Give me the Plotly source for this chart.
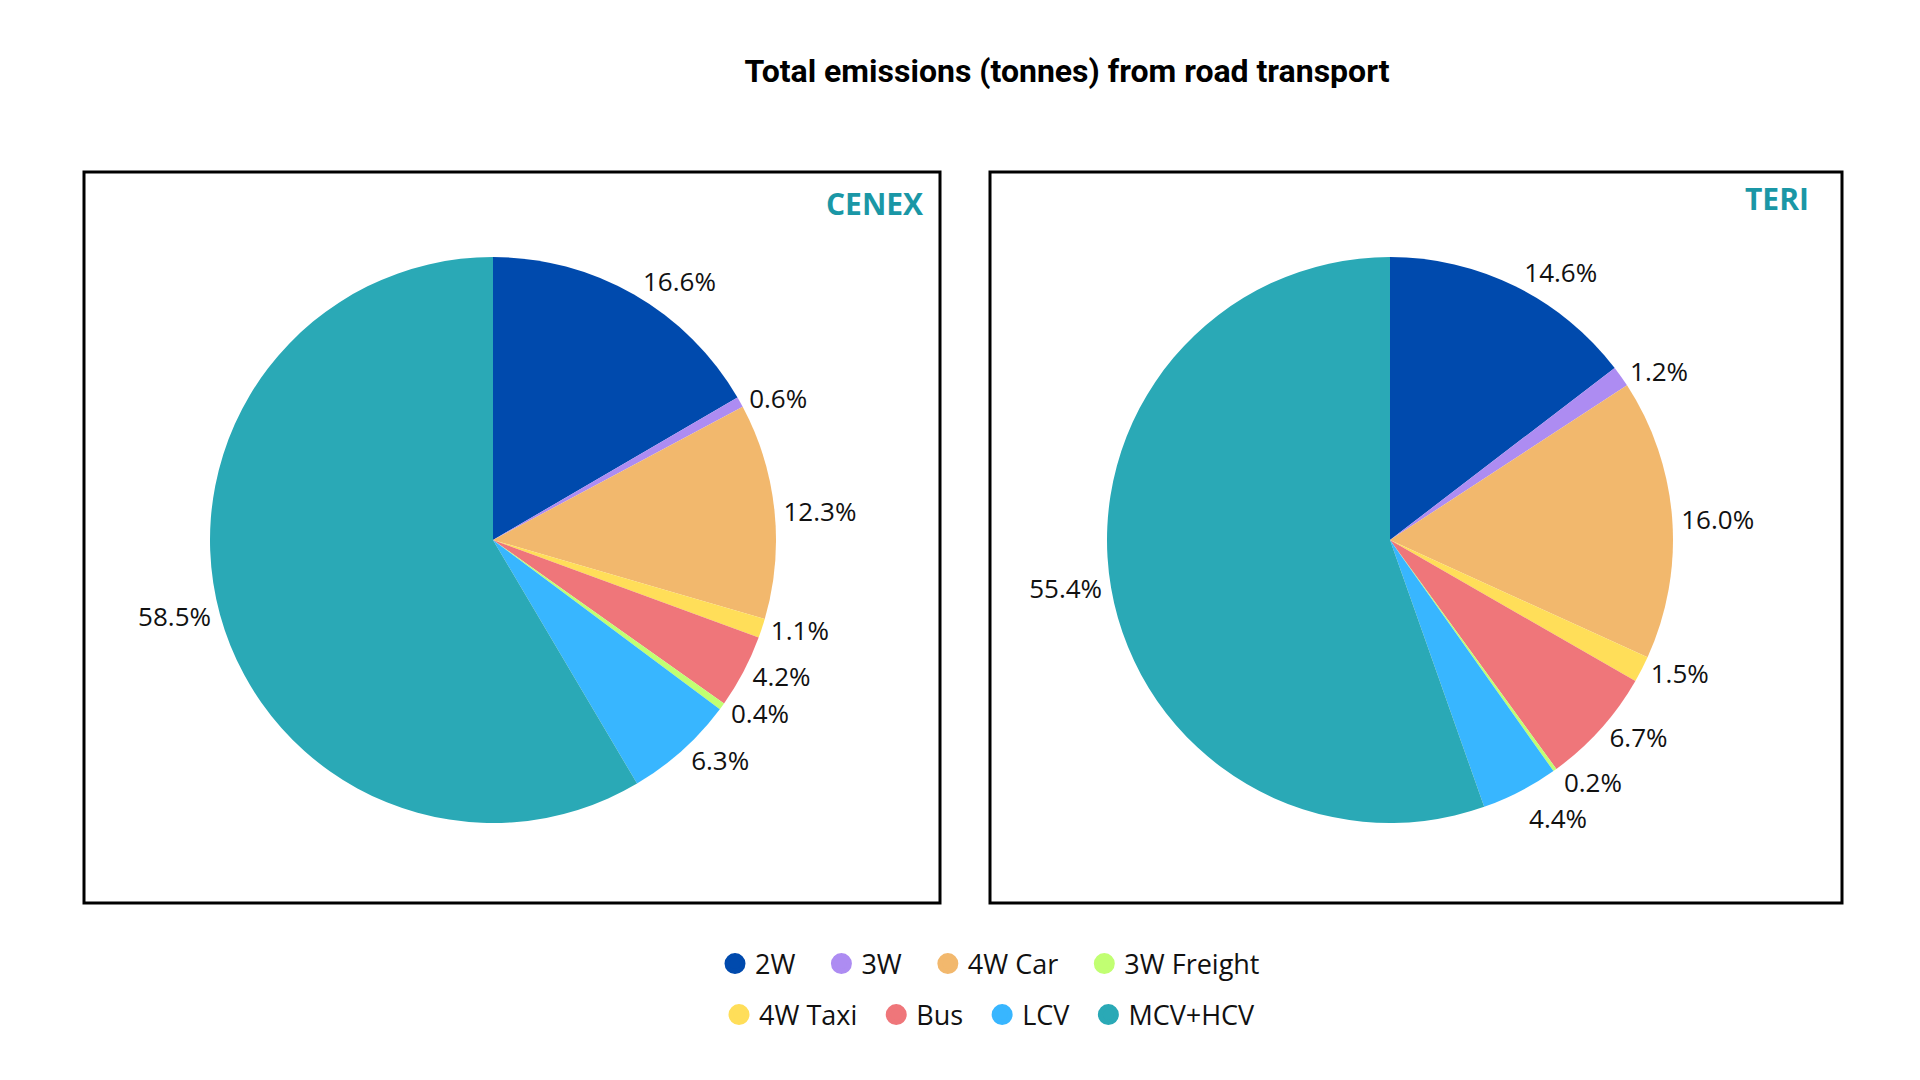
import plotly.graph_objects as go

# slice order, clockwise from 12 o'clock
categories = ["2W", "3W", "4W Car", "4W Taxi", "Bus", "3W Freight", "LCV", "MCV+HCV"]
cenex_share = [16.6, 0.6, 12.3, 1.1, 4.2, 0.4, 6.3, 58.5]
teri_share = [14.6, 1.2, 16.0, 1.5, 6.7, 0.2, 4.4, 55.4]

# legend order as in the picture
legend_row1 = ["2W", "3W", "4W Car", "3W Freight"]
legend_row2 = ["4W Taxi", "Bus", "LCV", "MCV+HCV"]

colours = {
    "2W": "#004aad",
    "3W": "#ad8cf2",
    "4W Car": "#f2b86d",
    "4W Taxi": "#ffde59",
    "Bus": "#ef767a",
    "3W Freight": "#c1ff72",
    "LCV": "#38b6ff",
    "MCV+HCV": "#2aa9b6",
}

W, H = 1920, 1080
font = "Open Sans"
NBSP = "\u00a0"


def px(v):
    return v / W


def py(v):
    return 1 - v / H


R = 283


def pie(values, cx, cy=532):
    return go.Pie(
        labels=categories,
        values=values,
        sort=False,
        direction="clockwise",
        rotation=0,
        marker=dict(colors=[colours[c] for c in categories], line=dict(width=0)),
        textposition="outside",
        texttemplate="%{value:.1f}%",
        textfont=dict(family=font, size=26, color="#111111"),
        domain=dict(x=[px(cx - R), px(cx + R)], y=[py(cy + R), py(cy - R)]),
        showlegend=False,
        hoverinfo="label+value",
    )


fig = go.Figure()
fig.add_trace(pie(cenex_share, 485))
fig.add_trace(pie(teri_share, 1382))

# legend entries as marker-only traces so the order and circles match
for row, pad, lg in [(legend_row1, 3, "legend"), (legend_row2, 2, "legend2")]:
    for i, name in enumerate(row):
        label = name + (NBSP * pad if i < len(row) - 1 else "")
        fig.add_trace(go.Scatter(
            x=[None], y=[None], mode="markers", name=label, legend=lg,
            marker=dict(symbol="circle", size=16, color=colours[name],
                        line=dict(color=colours[name], width=5)),
        ))

# frames round each pie
for x0, x1 in [(76, 932), (982, 1834)]:
    fig.add_shape(type="rect", xref="paper", yref="paper",
                  x0=px(x0), x1=px(x1), y0=py(895), y1=py(164),
                  line=dict(color="black", width=3), fillcolor="rgba(0,0,0,0)")

fig.add_annotation(text="<b>CENEX</b>", xref="paper", yref="paper",
                   x=px(918), y=py(196), xanchor="right", yanchor="middle",
                   showarrow=False, font=dict(family=font, size=30, color="#1a97a6"))
fig.add_annotation(text="<b>TERI</b>", xref="paper", yref="paper",
                   x=px(1803), y=py(190), xanchor="right", yanchor="middle",
                   showarrow=False, font=dict(family=font, size=30, color="#1a97a6"))

legend_style = dict(orientation="h", xanchor="center", x=px(982), yanchor="middle",
                    font=dict(family=font, size=27, color="#111111"),
                    itemclick=False, bgcolor="rgba(0,0,0,0)")

fig.update_layout(
    width=W, height=H,
    margin=dict(l=0, r=0, t=0, b=0),
    paper_bgcolor="white", plot_bgcolor="white",
    title=dict(text="<b>Total emissions (tonnes) from road transport</b>",
               x=px(1059), xanchor="center", y=py(63), yanchor="middle",
               font=dict(family="Roboto", size=32, color="black")),
    xaxis=dict(visible=False), yaxis=dict(visible=False),
    legend=dict(y=py(956), **legend_style),
    legend2=dict(y=py(1007), **legend_style),
)

# the reference has no leader lines from shifted labels
fig.write_html(
    "out.html",
    post_script="document.querySelectorAll('path.textline')"
                ".forEach(function(p){p.style.display='none';});",
)
